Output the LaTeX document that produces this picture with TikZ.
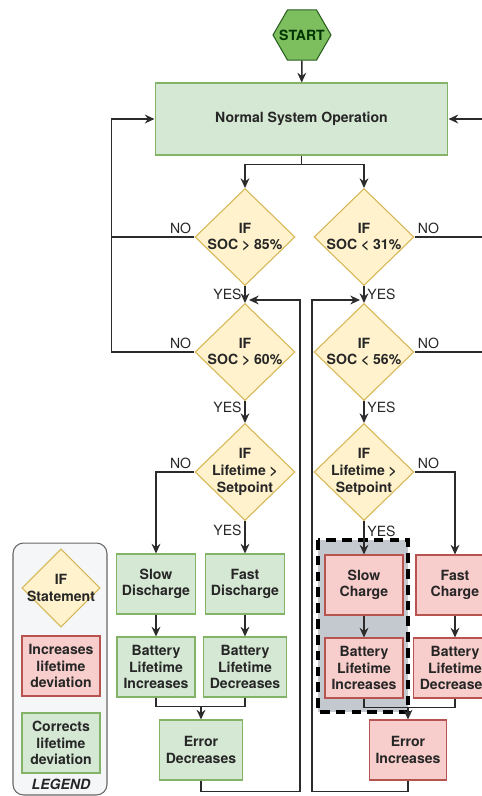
\documentclass[tikz,border=0pt]{standalone}
\usepackage{fontspec}
\setmainfont{TeX Gyre Heros}
\usetikzlibrary{arrows.meta, shapes.geometric, calc}

\definecolor{ifFill}{HTML}{FFF2CC}
\definecolor{ifLine}{HTML}{D6B656}
\definecolor{okFill}{HTML}{D5E8D4}
\definecolor{okLine}{HTML}{82B366}
\definecolor{badFill}{HTML}{F8CECC}
\definecolor{badLine}{HTML}{B85450}
\definecolor{startFill}{RGB}{125,190,95}
\definecolor{startLine}{RGB}{40,95,30}
\definecolor{legFill}{HTML}{F5F6F8}
\definecolor{legLine}{HTML}{666666}
\definecolor{selFill}{RGB}{196,201,207}
\definecolor{lineGray}{HTML}{2B2B2B}

\tikzset{
  flow/.style={draw=lineGray, line width=0.85pt},
  ifdiamond/.style={diamond, draw=ifLine, fill=ifFill, line width=0.6pt, inner sep=0pt,
                    minimum width=2cm, minimum height=1.94cm},
  iftext/.style={font=\fontsize{8}{9.5}\selectfont\bfseries, align=center, text=black!85},
  boxtext/.style={font=\fontsize{8}{9.3}\selectfont\bfseries, align=center, text=black!85},
  greenbox/.style={rectangle, draw=okLine, fill=okFill, line width=0.6pt,
                   minimum width=1.56cm, minimum height=1.2cm, boxtext},
  redbox/.style={rectangle, draw=badLine, fill=badFill, line width=0.6pt,
                 minimum width=1.56cm, minimum height=1.2cm, boxtext},
  answer/.style={font=\fontsize{8}{9}\selectfont, inner sep=1.5pt, text=black!85},
}

\begin{document}
\begin{tikzpicture}[>={Stealth[length=5.5pt, width=5pt]}, x=0.02cm, y=-0.02cm]

\useasboundingbox (0,0) rectangle (482,796);
\clip (0,0) rectangle (482,796);

% Backgrounds
\node[draw=legLine, fill=legFill, rounded corners=6pt, line width=0.6pt,
      minimum width=1.88cm, minimum height=5.04cm] (legend) at (60,669) {};
\filldraw[fill=selFill, draw=black, line width=1.8pt, dash pattern=on 5.5pt off 3.5pt]
  (318,540) rectangle (408,712);

% Nodes - top
\node[regular polygon, regular polygon sides=6, minimum size=1.16cm, inner sep=0pt,
      draw=startLine, fill=startFill, line width=0.6pt,
      label={[font=\fontsize{8}{9}\selectfont\bfseries, text=black!80!green]center:START}] (start) at (302,35) {};
\node[rectangle, draw=okLine, fill=okFill, line width=0.6pt, minimum width=5.86cm,
      minimum height=1.44cm, boxtext] (normal) at (301.5,119) {Normal System Operation};

% Nodes - decisions
\node[ifdiamond, label={[iftext]center:{IF\\SOC > 85\%}}] (d1) at (245,237) {};
\node[ifdiamond, label={[iftext]center:{IF\\SOC < 31\%}}] (d2) at (364,237) {};
\node[ifdiamond, label={[iftext]center:{IF\\SOC > 60\%}}] (d3) at (245,352) {};
\node[ifdiamond, label={[iftext]center:{IF\\SOC < 56\%}}] (d4) at (364,352) {};
\node[ifdiamond, label={[iftext]center:{IF\\Lifetime >\\Setpoint}}] (d5) at (245,472) {};
\node[ifdiamond, label={[iftext]center:{IF\\Lifetime >\\Setpoint}}] (d6) at (364,472) {};

% Nodes - actions
\node[greenbox] (sdis) at (156,584) {Slow\\Discharge};
\node[greenbox] (fdis) at (245,584) {Fast\\Discharge};
\node[greenbox] (bli1) at (156,667) {Battery\\Lifetime\\Increases};
\node[greenbox] (bld1) at (245,667) {Battery\\Lifetime\\Decreases};
\node[greenbox, minimum width=1.54cm] (edec) at (201,750) {Error\\Decreases};
\node[redbox] (scha) at (364,585) {Slow\\Charge};
\node[redbox] (fcha) at (455,585) {Fast\\Charge};
\node[redbox] (bli2) at (364,668) {Battery\\Lifetime\\Increases};
\node[redbox] (bld2) at (455,668) {Battery\\Lifetime\\Decreases};
\node[redbox, minimum width=1.54cm] (einc) at (408,750) {Error\\Increases};

% Legend
\node[ifdiamond, minimum width=1.56cm, minimum height=1.56cm,
      label={[iftext]center:{IF\\Statement}}] (legif) at (61,588) {};
\node[redbox] (legred) at (61,666) {Increases\\lifetime\\deviation};
\node[greenbox] (leggreen) at (61,743) {Corrects\\lifetime\\deviation};
\node[font=\fontsize{8}{9}\selectfont\bfseries\itshape, text=black!85] (legtitle) at (61,784) {LEGEND};

% Arrows - top
\draw[flow,->] (start) -- (normal);
\draw[flow,->] (normal.south) -- ++(0,9) -| (d1.north);
\draw[flow,->] (normal.south) -- ++(0,9) -| (d2.north);

% Arrows - NO loops
\coordinate (lft) at ($(normal.west)+(-43,0)$);
\coordinate (rgt) at ($(normal.east)+(45,0)$);
\draw[flow,->] (d3.west) node[answer, above left] {NO} -| (lft) -- (normal.west);
\draw[flow] (d1.west) node[answer, above left] {NO} -- (d1.west -| lft);
\draw[flow,->] (d4.east) node[answer, above right] {NO} -| (rgt) -- (normal.east);
\draw[flow] (d2.east) node[answer, above right] {NO} -- (d2.east -| rgt);

% Arrows - YES
\draw[flow,->] (d1.south) -- node[answer, left] {YES} (d3.north);
\draw[flow,->] (d2.south) -- node[answer, right] {YES} (d4.north);
\draw[flow,->] (d3.south) -- node[answer, left, pos=0.3] {YES} (d5.north);
\draw[flow,->] (d4.south) -- node[answer, right, pos=0.3] {YES} (d6.north);

% Arrows - lifetime
\draw[flow,->] (d5.west) node[answer, above left] {NO} -| (sdis.north);
\draw[flow,->] (d5.south) -- node[answer, left, pos=0.3] {YES} (fdis.north);
\draw[flow,->] (d6.east) node[answer, above right] {NO} -| (fcha.north);
\draw[flow,->] (d6.south) -- node[answer, right, pos=0.3] {YES} (scha.north);

\draw[flow,->] (sdis) -- (bli1);
\draw[flow,->] (fdis) -- (bld1);
\draw[flow,->] (scha) -- (bli2);
\draw[flow,->] (fcha) -- (bld2);

% Arrows - merge
\draw[flow] (bli1.south) -- ++(0,9) -| (bld1.south);
\draw[flow] (bli2.south) -- ++(0,9) -| (bld2.south);
\coordinate (mergeL) at (201,707);
\coordinate (mergeR) at (408,707);
\draw[flow,->] (mergeL) -- (edec.north);
\draw[flow,->] (mergeR) -- (einc.north);

% Arrows - feedback
\coordinate (tipL) at ($(d3.north)+(4,-3)$);
\coordinate (tipR) at ($(d4.north)+(-4,-3)$);
\draw[flow,->] (edec.south) -- ++(0,11) -| ($(tipL)+(51,0)$) -- (tipL);
\draw[flow,->] (einc.south) -- ++(0,11) -| ($(tipR)+(-48,0)$) -- (tipR);

\end{tikzpicture}
\end{document}
